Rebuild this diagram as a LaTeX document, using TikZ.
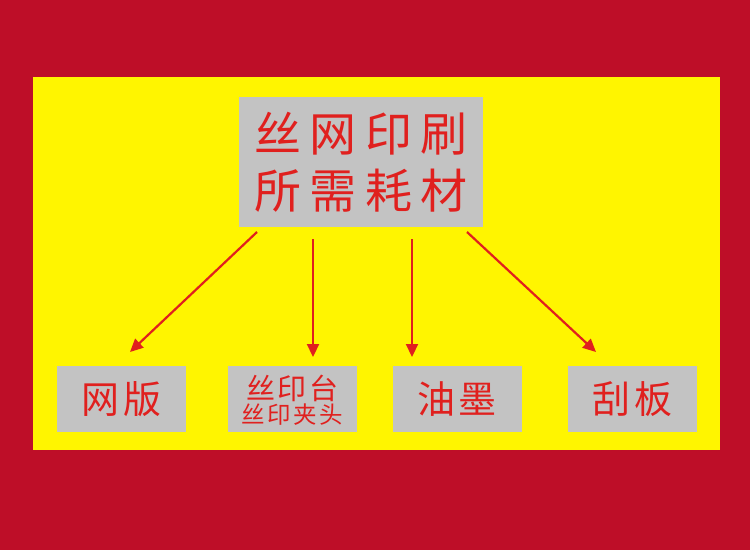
\documentclass[tikz,border=0pt]{standalone}
\usepackage{fontspec}
\usepackage{tikz}
\usepackage{xcolor}
\usetikzlibrary{positioning, arrows.meta}
\newfontfamily\cjk[LetterSpace=18]{Noto Sans CJK SC}
\newfontfamily\cjkb[LetterSpace=10]{Noto Sans CJK SC}
\definecolor{bgred}{HTML}{BE0E28}
\definecolor{panel}{HTML}{FFF500}
\definecolor{boxgray}{HTML}{C3C3C3}
\definecolor{inkred}{HTML}{E0201E}
\tikzset{
    item/.style={rectangle, fill=boxgray, minimum width=129pt, minimum height=66pt, inner sep=0pt, align=center, text=inkred, font=\cjkb\fontsize{38}{40}\selectfont},
    topic/.style={rectangle, fill=boxgray, minimum width=244pt, minimum height=130pt, inner sep=0pt, align=center, text=inkred, font=\cjk\fontsize{47}{57}\selectfont},
    link/.style={-{Triangle[length=13pt, width=12pt]}, line width=2.2pt, draw=inkred}
}

\begin{document}
\begin{tikzpicture}[x=1pt, y=-1pt]

% Background
\fill[bgred] (0,0) rectangle (750,550);
\fill[panel] (33,77) rectangle (720,450);
\useasboundingbox (0,0) rectangle (750,550);

% Nodes
\node[topic] (top) at (361,162) {丝网印刷\\所需耗材};
\node[item] (screen) at (121.5,399) {网版};
\node[item, font=\cjkb\fontsize{29}{27}\selectfont, text depth=-6pt] (table) at (292.5,399)
    {丝印台\\[-3pt]{\cjkb\fontsize{23.5}{27}\selectfont 丝印夹头}};
\node[item] (ink) at (457,399) {油墨};
\node[item] (blade) at (632.5,399) {刮板};

% Arrows
\coordinate (s1) at (257,232);
\coordinate (s2) at (313,239);
\coordinate (s3) at (412,239);
\coordinate (s4) at (467,232);
\coordinate (e1) at (130,352);
\coordinate (e2) at (313,357);
\coordinate (e3) at (412,357);
\coordinate (e4) at (596,352);

\draw[link] (s1) -- (e1);
\draw[link] (s2) -- (e2);
\draw[link] (s3) -- (e3);
\draw[link] (s4) -- (e4);

\end{tikzpicture}
\end{document}
